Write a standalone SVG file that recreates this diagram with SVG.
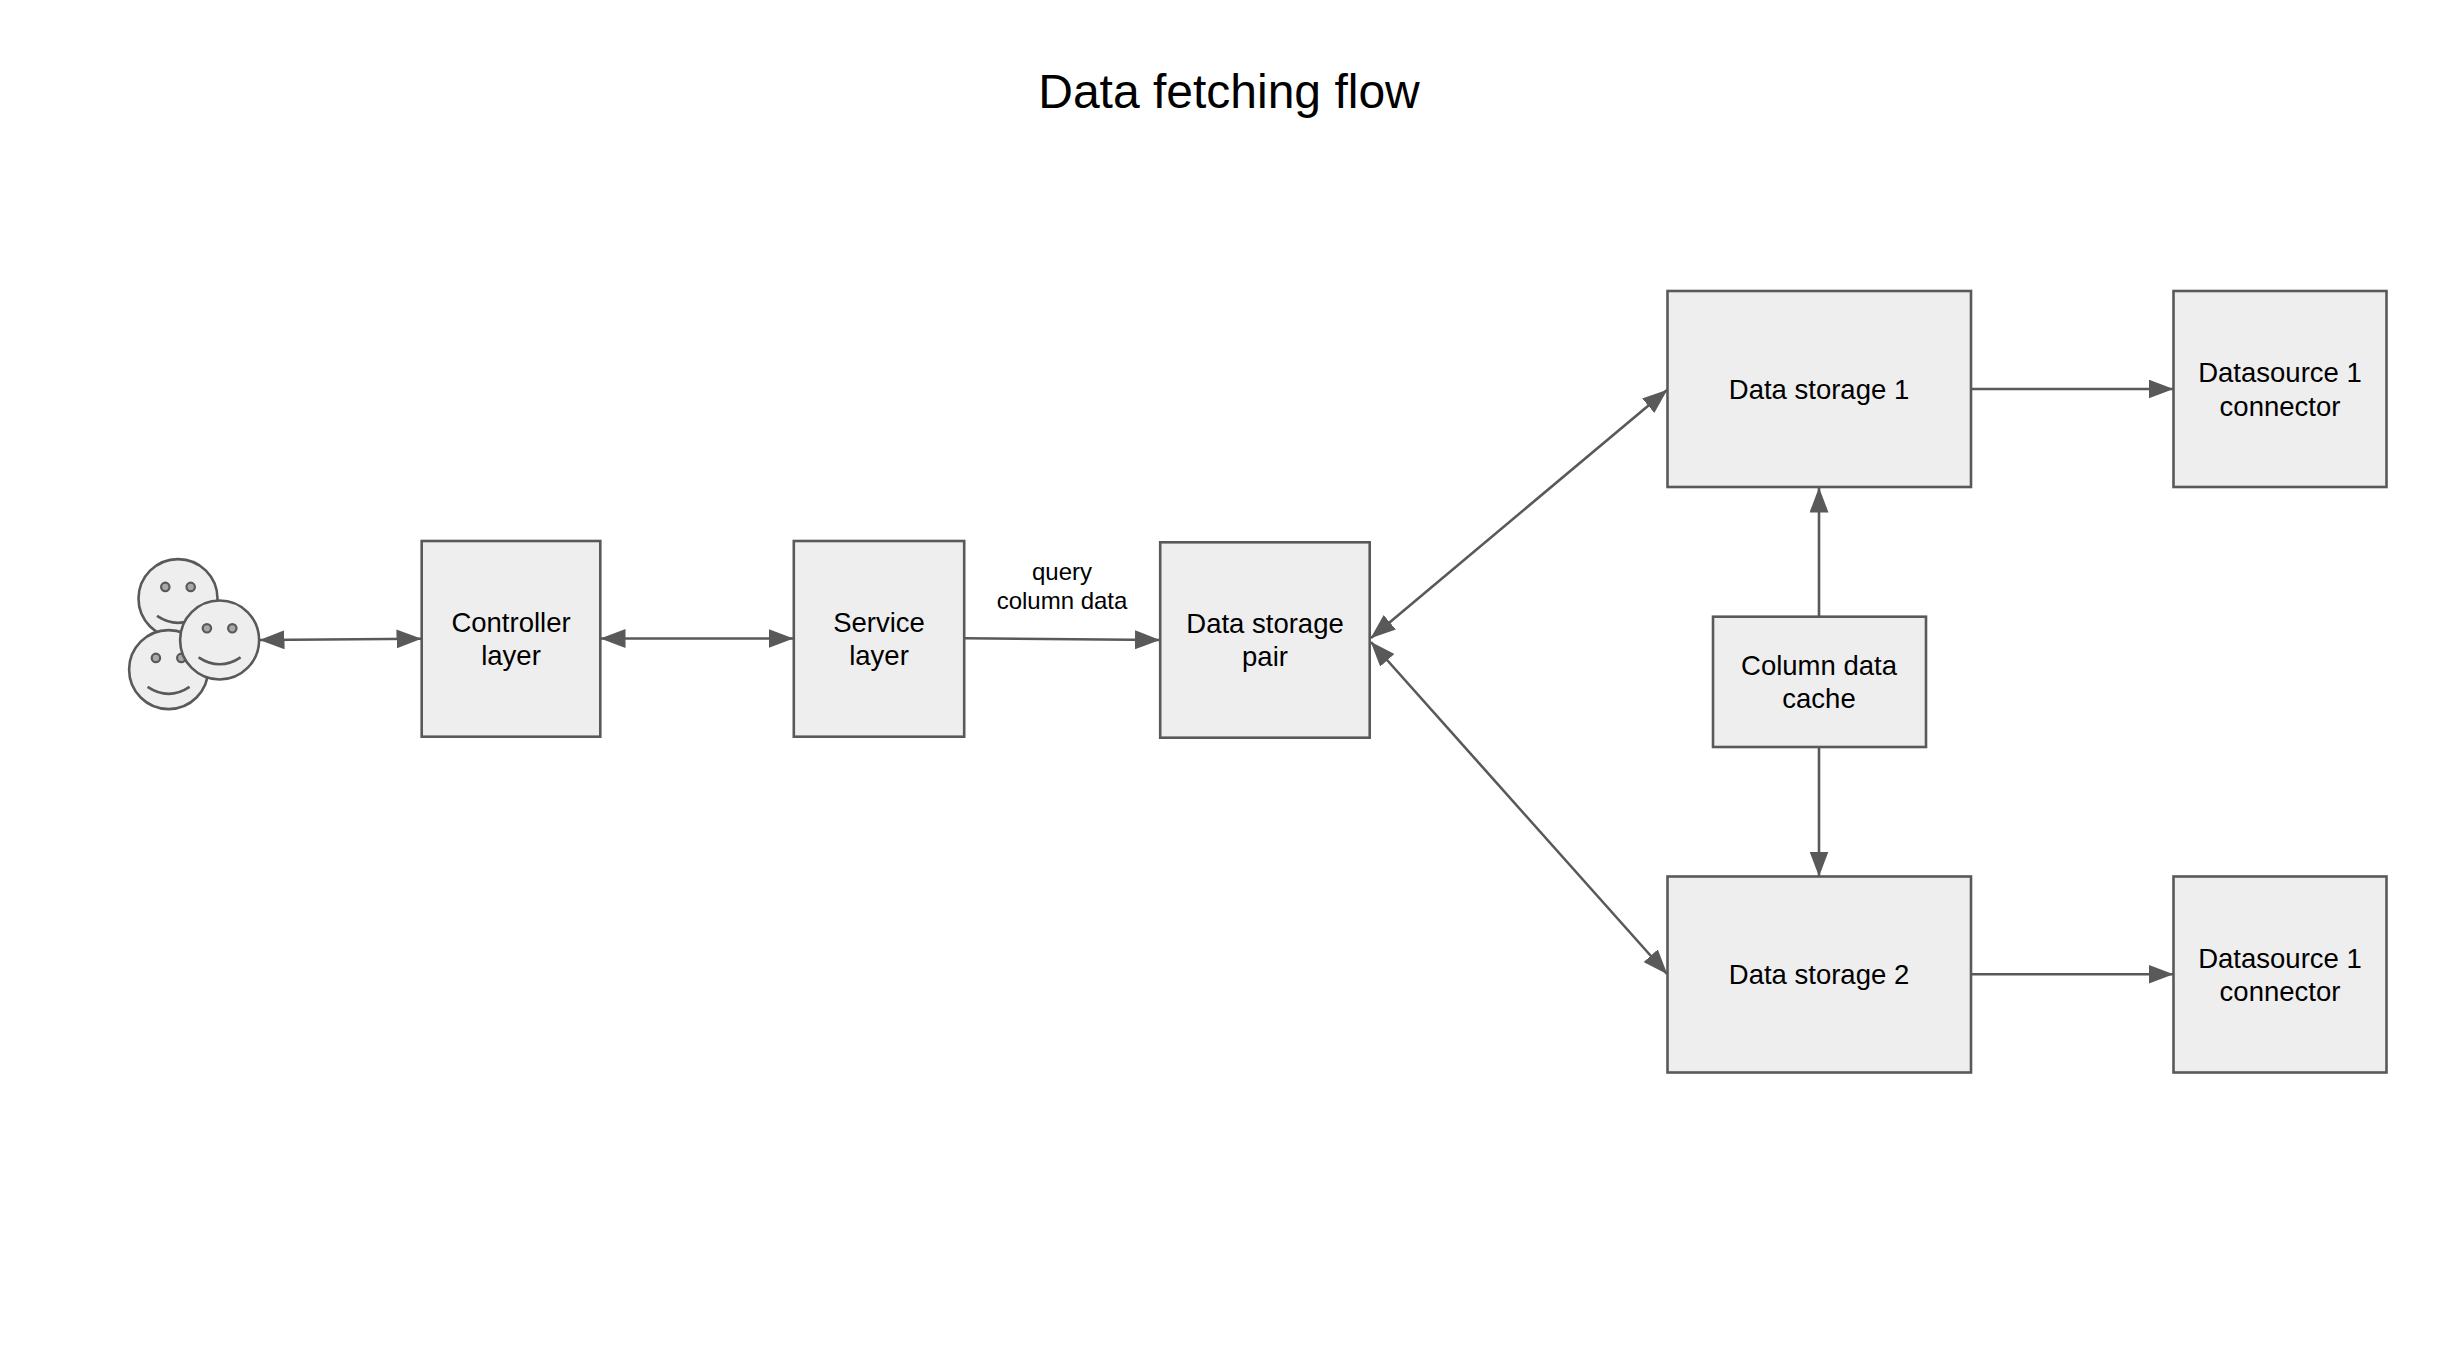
<svg xmlns="http://www.w3.org/2000/svg" width="2458" height="1372" viewBox="0 0 2458 1372">
<style>
text{font-family:"Liberation Sans",Arial,sans-serif;fill:#000;text-anchor:middle}
.n{font-size:27.5px}
.l{font-size:24px}
.t{font-size:48px}
.b{fill:#eee;stroke:#595959;stroke-width:2.6}
.c{fill:none;stroke:#595959;stroke-width:2.6}
.e{fill:#a8a8a8;stroke:#595959;stroke-width:2.2}
.f{fill:#eee;stroke:#595959;stroke-width:2.6}
</style>
<defs>
<marker id="a" markerUnits="userSpaceOnUse" markerWidth="25" markerHeight="19" refX="24.5" refY="9.5" orient="auto-start-reverse"><path d="M0 0L25 9.5L0 19Z" fill="#595959"/></marker>
<g id="smile"><circle class="f" r="39.5"/><circle class="e" cx="-12.7" cy="-11.7" r="4.2"/><circle class="e" cx="12.7" cy="-11.7" r="4.2"/><path class="c" d="M-21 17.3Q0 31.3 21 17.3"/></g>
</defs>
<rect width="2458" height="1372" fill="#fff"/>
<text id="title" class="t" x="1229" y="108">Data fetching flow</text>
<g id="users"><use href="#smile" x="178" y="598.6"/><use href="#smile" x="168.6" y="669.6"/><use href="#smile" x="219.6" y="640"/></g>
<g id="connectors" class="c">
<path marker-start="url(#a)" marker-end="url(#a)" d="M260 640L421 638.7"/>
<path marker-start="url(#a)" marker-end="url(#a)" d="M601 638.5L793 638.5"/>
<path marker-end="url(#a)" d="M965 638.3L1159.5 640"/>
<path marker-start="url(#a)" marker-end="url(#a)" d="M1371 638L1667 390"/>
<path marker-start="url(#a)" marker-end="url(#a)" d="M1371 642L1667 974"/>
<path marker-end="url(#a)" d="M1819 617L1819 488"/>
<path marker-end="url(#a)" d="M1819 747L1819 876"/>
<path marker-end="url(#a)" d="M1971 389L2173 389"/>
<path marker-end="url(#a)" d="M1971 974.3L2173 974.3"/>
</g>
<g id="controller"><rect class="b" x="421.7" y="541" width="178.6" height="195.7"/><text class="n" x="511" y="631.7">Controller</text><text class="n" x="511" y="664.7">layer</text></g>
<g id="service"><rect class="b" x="793.8" y="541" width="170.4" height="195.7"/><text class="n" x="879" y="631.7">Service</text><text class="n" x="879" y="664.7">layer</text></g>
<g id="pair"><rect class="b" x="1160.2" y="542.3" width="209.5" height="195.4"/><text class="n" x="1265" y="633">Data storage</text><text class="n" x="1265" y="666">pair</text></g>
<g id="storage1"><rect class="b" x="1667.5" y="291" width="303.5" height="196"/><text class="n" x="1819" y="398.5">Data storage 1</text></g>
<g id="connector1"><rect class="b" x="2173.5" y="291" width="213" height="196"/><text class="n" x="2280" y="382">Datasource 1</text><text class="n" x="2280" y="415.5">connector</text></g>
<g id="cache"><rect class="b" x="1713" y="616.7" width="213" height="130.3"/><text class="n" x="1819" y="675">Column data</text><text class="n" x="1819" y="708">cache</text></g>
<g id="storage2"><rect class="b" x="1667.5" y="876.5" width="303.5" height="196"/><text class="n" x="1819" y="984">Data storage 2</text></g>
<g id="connector2"><rect class="b" x="2173.5" y="876.5" width="213" height="196"/><text class="n" x="2280" y="967.5">Datasource 1</text><text class="n" x="2280" y="1001">connector</text></g>
<g id="edge-label"><text class="l" x="1062" y="579.5">query</text><text class="l" x="1062" y="609">column data</text></g>
</svg>
